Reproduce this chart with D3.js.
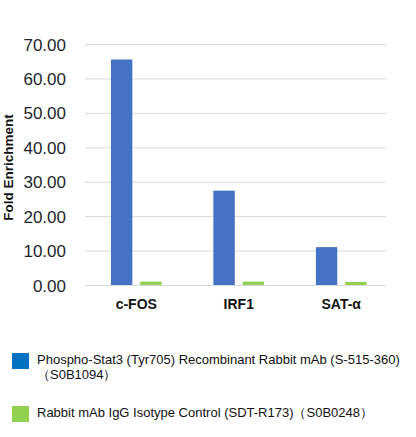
<!DOCTYPE html>
<html>
<head>
<meta charset="utf-8">
<script src="https://cdn.jsdelivr.net/npm/d3@7"></script>
<style>
  body { margin: 0; background: #fff; }
  svg { display: block; font-family: Arial, "Liberation Sans", sans-serif; }
</style>
</head>
<body>
<div id="chart"></div>
<script>
// chart values
const categories = ["c-FOS", "IRF1", "SAT-\u03b1"]
const seriesNames = ["Phospho-Stat3", "IgG"]
const phosphoValues = [65.5, 27.4, 11.0]
const iggValues = [1.0, 1.0, 0.9]
const yTicks = [0, 10, 20, 30, 40, 50, 60, 70]
const legendLines = [
    ["Phospho-Stat3 (Tyr705) Recombinant Rabbit mAb (S-515-360)", "\uff08S0B1094\uff09"],
    ["Rabbit mAb IgG Isotype Control (SDT-R173)\uff08S0B0248\uff09"]
]

const WIDTH = 416, HEIGHT = 437
const margin = {left: 85, right: 30, top: 44, bottom: 152}
const barColors = ["#4472c4", "#92d050"]
const legendColors = ["#0070c0", "#92d050"]

let svg = d3.select("#chart").append("svg")
    .attr("width", WIDTH).attr("height", HEIGHT)

let plotW = WIDTH - margin.left - margin.right
let plotH = HEIGHT - margin.top - margin.bottom

// bands run a little past the grid on the right, like the original
let x0 = d3.scaleBand().domain(categories).range([0, plotW + 6.5])
    .paddingInner(0.505).paddingOuter(0.253)
let x1 = d3.scaleBand().domain(seriesNames).range([0, x0.bandwidth()]).paddingInner(0.27)
let y = d3.scaleLinear().domain([0, 70]).range([plotH, 0])

let g = svg.append("g")
    .attr("transform", "translate(" + margin.left + "," + margin.top + ")")

// gridlines + y labels
let yAxis = d3.axisLeft(y).tickValues(yTicks).tickSize(-plotW)
    .tickFormat(d => d.toFixed(2)).tickPadding(19)
let ya = g.append("g").call(yAxis)
ya.select(".domain").remove()
ya.selectAll("line").attr("stroke", "#d9d9d9").attr("stroke-width", 1)
ya.selectAll("text")
    .attr("fill", "#1c1f2e")
    .style("font-size", "17px")
    .attr("dy", "0.36em")

// bars
let rows = categories.map((c, i) => ({cat: c, vals: [phosphoValues[i], iggValues[i]]}))
let grp = g.selectAll(".grp").data(rows).enter().append("g")
    .attr("transform", d => "translate(" + x0(d.cat) + ",0)")
grp.selectAll("rect")
    .data(d => d.vals.map((v, k) => ({key: seriesNames[k], v: v, k: k})))
    .enter().append("rect")
    .attr("x", d => x1(d.key))
    .attr("width", x1.bandwidth())
    .attr("y", d => y(d.v))
    .attr("height", d => plotH - y(d.v))
    .attr("fill", d => barColors[d.k])

// x labels
let xAxis = d3.axisBottom(x0).tickSize(0).tickPadding(14)
let xa = g.append("g").attr("transform", "translate(0," + plotH + ")").call(xAxis)
xa.select(".domain").remove()
xa.selectAll("text")
    .attr("fill", "#111")
    .style("font-size", "14px")
    .style("font-weight", "bold")

// y title
svg.append("text")
    .attr("transform", "translate(13," + (margin.top + plotH / 2 + 3) + ") rotate(-90)")
    .attr("text-anchor", "middle")
    .style("font-size", "13.5px")
    .style("font-weight", "bold")
    .attr("fill", "#111")
    .text("Fold Enrichment")

// legend
let legY = [353, 406]
legendLines.forEach((lines, i) => {
    svg.append("rect")
        .attr("x", 12).attr("y", legY[i])
        .attr("width", 17).attr("height", 16)
        .attr("fill", legendColors[i])
    lines.forEach((t, j) => {
        svg.append("text")
            .attr("x", 37)
            .attr("y", legY[i] + 11 + j * 15)
            .style("font-size", "13px")
            .attr("fill", "#111")
            .text(t)
    })
})
</script>
</body>
</html>
